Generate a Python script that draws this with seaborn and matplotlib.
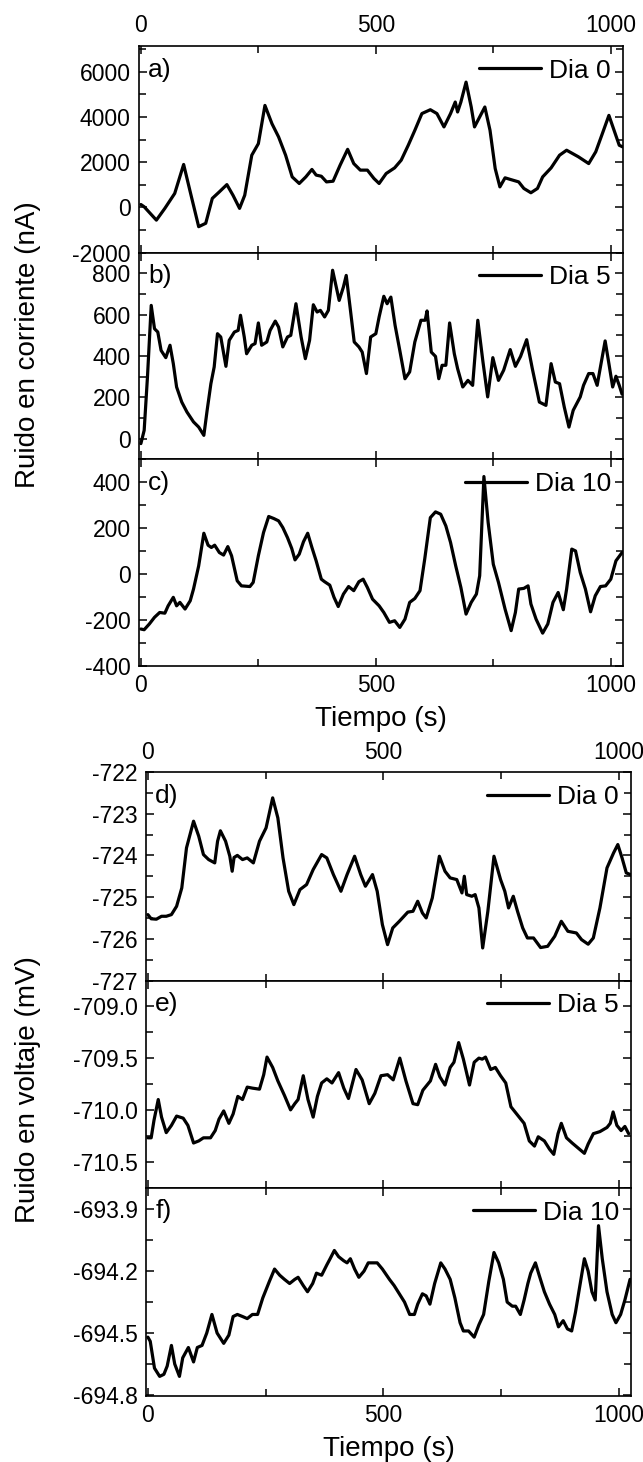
import matplotlib
matplotlib.use("Agg")
import matplotlib.pyplot as plt
import seaborn as sns
import pandas as pd
from matplotlib.ticker import MultipleLocator, FormatStrFormatter

# ---------------- data ----------------
# a) corriente, Dia 0 (nA)
t_a = [0, 7, 33, 51, 72, 91, 105, 123, 138, 152, 167, 183, 196, 210, 221, 236, 250, 264, 279, 293,
       308, 322, 337, 351, 364, 373, 384, 395, 409, 424, 440, 453, 467, 482, 496, 507, 522, 540, 554,
       569, 583, 598, 616, 630, 645, 659, 669, 674, 681, 692, 703, 710, 721, 732, 743, 754, 764, 775,
       786, 804, 815, 830, 844, 855, 873, 891, 906, 931, 953, 968, 982, 996, 1007, 1018, 1025]
i_a = [130, 30, -560, -40, 620, 1900, 690, -850, -700, 400, 690, 1010, 540, -40, 540, 2310, 2820,
       4510, 3700, 3120, 2310, 1350, 1060, 1350, 1680, 1430, 1380, 1130, 1160, 1870, 2570, 1940, 1650,
       1650, 1280, 1060, 1500, 1750, 2090, 2750, 3410, 4150, 4320, 4150, 3560, 4150, 4660, 4220, 4660,
       5540, 4440, 3560, 4000, 4440, 3410, 1720, 910, 1310, 1240, 1130, 840, 650, 840, 1350, 1750,
       2310, 2530, 2240, 1940, 2460, 3260, 4070, 3410, 2750, 2680]

# b) corriente, Dia 5 (nA)
t_b = [0, 7, 14, 22, 29, 36, 43, 53, 62, 69, 76, 87, 98, 112, 123, 134, 141, 149, 156, 163, 170,
       181, 188, 199, 207, 212, 220, 225, 236, 243, 250, 257, 268, 275, 286, 293, 302, 312, 319, 330,
       341, 350, 359, 367, 375, 382, 391, 399, 408, 422, 431, 437, 446, 454, 464, 471, 480, 489, 500,
       507, 517, 524, 532, 541, 551, 562, 572, 583, 596, 605, 609, 618, 627, 634, 641, 649, 657, 667,
       674, 685, 696, 706, 717, 728, 738, 749, 761, 772, 786, 797, 808, 821, 833, 848, 862, 873, 882,
       891, 901, 911, 920, 935, 942, 953, 962, 971, 978, 988, 996, 1004, 1011, 1018, 1024]
i_b = [-24, 40, 298, 645, 532, 516, 427, 392, 452, 363, 250, 177, 129, 81, 56, 16, 137, 266, 347,
       508, 492, 350, 476, 516, 524, 597, 492, 411, 452, 460, 560, 452, 468, 524, 569, 540, 444, 492,
       500, 653, 492, 387, 476, 648, 613, 621, 589, 621, 815, 669, 734, 790, 621, 468, 444, 419, 315,
       492, 508, 589, 689, 653, 685, 548, 427, 290, 323, 468, 573, 573, 618, 419, 398, 290, 355, 355,
       560, 411, 339, 250, 282, 258, 573, 371, 202, 392, 282, 331, 431, 350, 398, 479, 339, 177, 161,
       363, 274, 266, 153, 56, 137, 202, 258, 315, 315, 258, 347, 473, 363, 250, 302, 258, 215]

# c) corriente, Dia 10 (nA)
t_c = [0, 7, 18, 29, 40, 51, 58, 69, 76, 83, 94, 105, 112, 123, 134, 143, 150, 157, 167, 176, 185,
       193, 205, 214, 232, 239, 250, 261, 272, 283, 293, 302, 312, 321, 328, 337, 346, 355, 364, 373,
       384, 391, 402, 411, 420, 431, 442, 453, 464, 473, 482, 493, 507, 517, 529, 540, 551, 562, 572,
       583, 594, 604, 616, 627, 638, 649, 659, 670, 681, 692, 703, 714, 721, 730, 739, 750, 761, 775,
       788, 797, 804, 815, 824, 830, 841, 855, 866, 877, 888, 899, 906, 917, 925, 935, 946, 957, 967,
       978, 989, 1000, 1011, 1024]
i_c = [-239, -242, -217, -188, -167, -170, -138, -101, -138, -123, -152, -116, -65, 36, 178, 126,
       116, 126, 94, 83, 120, 80, -29, -51, -54, -36, 80, 181, 251, 242, 232, 203, 159, 112, 62, 87,
       141, 178, 116, 58, -22, -33, -48, -101, -141, -87, -54, -72, -33, -22, -58, -109, -138, -167,
       -210, -203, -232, -196, -123, -106, -72, 65, 246, 271, 261, 210, 138, 36, -58, -174, -123, -87,
       -7, 425, 225, 43, -36, -152, -246, -167, -65, -62, -51, -130, -196, -257, -217, -123, -80,
       -155, -65, 109, 101, 7, -65, -164, -94, -54, -51, -22, 58, 94]

# d) voltaje, Dia 0 (mV)
t_d = [0, 7, 18, 29, 39, 50, 61, 72, 82, 97, 108, 118, 129, 142, 148, 154, 165, 174, 179, 183, 190,
       201, 211, 224, 237, 251, 265, 276, 287, 299, 310, 323, 337, 351, 369, 380, 394, 410, 423, 439,
       452, 462, 477, 487, 498, 509, 520, 534, 552, 563, 573, 583, 591, 604, 619, 631, 642, 656, 667,
       672, 677, 688, 695, 703, 711, 722, 735, 749, 758, 766, 776, 785, 796, 806, 819, 834, 849, 864,
       878, 892, 910, 921, 935, 946, 960, 975, 989, 998, 1007, 1016, 1025]
v_d = [-725.42, -725.52, -725.53, -725.46, -725.46, -725.42, -725.22, -724.78, -723.82, -723.18,
       -723.54, -723.98, -724.10, -724.18, -723.66, -723.41, -723.66, -724.02, -724.38, -724.05,
       -724.00, -724.10, -724.06, -724.18, -723.66, -723.34, -722.62, -723.10, -724.06, -724.86,
       -725.18, -724.82, -724.70, -724.34, -723.98, -724.06, -724.46, -724.86, -724.46, -724.02,
       -724.46, -724.74, -724.46, -724.86, -725.66, -726.14, -725.74, -725.58, -725.36, -725.34,
       -725.10, -725.38, -725.50, -725.02, -724.02, -724.38, -724.54, -724.58, -724.90, -724.50,
       -724.94, -724.98, -724.94, -725.26, -726.22, -725.34, -724.02, -724.58, -724.86, -725.26,
       -724.98, -725.34, -725.74, -725.98, -725.98, -726.21, -726.18, -725.94, -725.58, -725.82,
       -725.86, -726.02, -726.13, -725.98, -725.26, -724.30, -723.94, -723.74, -724.06, -724.42,
       -724.46]

# e) voltaje, Dia 5 (mV)
t_e = [0, 7, 13, 22, 29, 39, 50, 61, 75, 85, 97, 108, 118, 133, 143, 151, 161, 172, 181, 191, 201,
       211, 222, 237, 246, 253, 265, 276, 290, 303, 312, 319, 330, 340, 351, 360, 369, 380, 391, 405,
       416, 426, 442, 455, 470, 482, 495, 509, 521, 535, 548, 563, 573, 584, 600, 611, 620, 631, 642,
       650, 660, 670, 683, 693, 703, 710, 717, 728, 738, 749, 760, 771, 785, 799, 810, 821, 829, 842,
       853, 862, 871, 878, 889, 901, 914, 927, 935, 946, 960, 975, 982, 988, 996, 1005, 1013, 1021]
v_e = [-710.27, -710.27, -710.10, -709.90, -710.07, -710.22, -710.15, -710.06, -710.08, -710.15,
       -710.32, -710.30, -710.27, -710.27, -710.20, -710.09, -710.01, -710.13, -710.04, -709.87,
       -709.90, -709.78, -709.79, -709.80, -709.66, -709.49, -709.59, -709.72, -709.86, -710.00,
       -709.94, -709.90, -709.67, -709.90, -710.07, -709.87, -709.74, -709.70, -709.74, -709.64,
       -709.79, -709.89, -709.61, -709.71, -709.94, -709.84, -709.67, -709.66, -709.71, -709.50,
       -709.72, -709.94, -709.95, -709.81, -709.72, -709.56, -709.68, -709.76, -709.59, -709.54,
       -709.35, -709.51, -709.76, -709.54, -709.50, -709.51, -709.49, -709.61, -709.59, -709.67,
       -709.74, -709.97, -710.05, -710.13, -710.30, -710.35, -710.26, -710.30, -710.38, -710.43,
       -710.23, -710.13, -710.27, -710.32, -710.37, -710.42, -710.33, -710.23, -710.21, -710.17,
       -710.13, -710.02, -710.15, -710.20, -710.16, -710.23]

# f) voltaje, Dia 10 (mV)
t_f = [0, 5, 14, 25, 34, 41, 50, 57, 67, 74, 86, 97, 105, 115, 125, 136, 147, 161, 172, 181, 190,
       201, 211, 222, 233, 244, 258, 269, 280, 290, 301, 312, 319, 330, 339, 350, 358, 369, 380, 387,
       396, 405, 416, 423, 430, 439, 448, 459, 468, 477, 487, 498, 513, 523, 534, 545, 556, 566, 573,
       583, 591, 599, 609, 622, 631, 642, 652, 663, 670, 681, 693, 703, 713, 724, 735, 745, 755, 763,
       774, 781, 791, 799, 807, 813, 823, 831, 842, 853, 864, 872, 882, 891, 900, 908, 916, 927, 935,
       943, 950, 957, 965, 975, 986, 994, 1004, 1013, 1024]
v_f = [-694.52, -694.54, -694.67, -694.71, -694.70, -694.66, -694.56, -694.65, -694.71, -694.62,
       -694.57, -694.64, -694.57, -694.56, -694.50, -694.41, -694.50, -694.55, -694.51, -694.42,
       -694.41, -694.42, -694.43, -694.41, -694.41, -694.33, -694.25, -694.19, -694.22, -694.24,
       -694.26, -694.24, -694.23, -694.27, -694.30, -694.26, -694.21, -694.22, -694.17, -694.14,
       -694.10, -694.13, -694.15, -694.16, -694.14, -694.19, -694.23, -694.20, -694.16, -694.16,
       -694.16, -694.19, -694.24, -694.27, -694.31, -694.35, -694.41, -694.41, -694.36, -694.31,
       -694.32, -694.36, -694.26, -694.16, -694.19, -694.24, -694.33, -694.45, -694.49, -694.49,
       -694.52, -694.46, -694.41, -694.25, -694.11, -694.16, -694.24, -694.35, -694.37, -694.37,
       -694.41, -694.34, -694.26, -694.21, -694.16, -694.22, -694.30, -694.36, -694.41, -694.47,
       -694.44, -694.48, -694.49, -694.40, -694.29, -694.14, -694.20, -694.30, -694.34, -693.98,
       -694.14, -694.30, -694.41, -694.45, -694.41, -694.34, -694.24]

panel_letters = ["a)", "b)", "c)", "d)", "e)", "f)"]
legend_labels = ["Dia 0", "Dia 5", "Dia 10", "Dia 0", "Dia 5", "Dia 10"]
ylabel_top = "Ruido en corriente (nA)"
ylabel_bottom = "Ruido en voltaje (mV)"
xlabel = "Tiempo (s)"

# ---------------- style ----------------
sns.set_theme(style="ticks")
plt.rcParams["font.family"] = ["Liberation Sans", "DejaVu Sans"]
plt.rcParams["axes.unicode_minus"] = False
for key in ["text.color", "axes.edgecolor", "axes.labelcolor", "xtick.color", "ytick.color"]:
    plt.rcParams[key] = "black"
plt.rcParams["lines.solid_joinstyle"] = "round"
plt.rcParams["lines.solid_capstyle"] = "round"

W, H = 643, 1462
fig = plt.figure(figsize=(W / 100, H / 100), dpi=100)

def rect(left, right, top, bottom):
    return [left / W, 1 - bottom / H, (right - left) / W, (bottom - top) / H]

upper_lr = (139, 623)
lower_lr = (146, 631)
panels = [
    dict(t=t_a, y=i_a, r=rect(*upper_lr, 45.7, 252.7), ylim=(-2000, 7150), major=2000, minor=1000, fmt="%d"),
    dict(t=t_b, y=i_b, r=rect(*upper_lr, 252.7, 459.3), ylim=(-100, 900), major=200, minor=100, fmt="%d"),
    dict(t=t_c, y=i_c, r=rect(*upper_lr, 459.3, 666), ylim=(-400, 500), major=200, minor=100, fmt="%d"),
    dict(t=t_d, y=v_d, r=rect(*lower_lr, 772, 980.5), ylim=(-727, -722), major=1, minor=0.5, fmt="%d"),
    dict(t=t_e, y=v_e, r=rect(*lower_lr, 980.5, 1187.5), ylim=(-710.75, -708.75), major=0.5, minor=0.25, fmt="%.1f"),
    dict(t=t_f, y=v_f, r=rect(*lower_lr, 1187.5, 1396), ylim=(-694.805, -693.795), major=0.3, minor=0.15, fmt="%.1f"),
]

for k, p in enumerate(panels):
    ax = fig.add_axes(p["r"])
    df = pd.DataFrame({"t": p["t"], "v": p["y"]})
    sns.lineplot(data=df, x="t", y="v", ax=ax, color="black", linewidth=2.3,
                 label=legend_labels[k], sort=False, estimator=None)
    ax.set_xlim(-4, 1026)
    ax.set_ylim(*p["ylim"])
    ax.set_xlabel("")
    ax.set_ylabel("")
    ax.xaxis.set_major_locator(MultipleLocator(500))
    ax.xaxis.set_minor_locator(MultipleLocator(250))
    ax.yaxis.set_major_locator(MultipleLocator(p["major"]))
    ax.yaxis.set_minor_locator(MultipleLocator(p["minor"]))
    ax.yaxis.set_major_formatter(FormatStrFormatter(p["fmt"]))
    first = k in (0, 3)
    last = k in (2, 5)
    ax.tick_params(which="both", direction="in", top=True, right=True,
                   labeltop=first, labelbottom=last, labelsize=16.5, pad=6, width=1.1)
    ax.tick_params(which="major", length=6)
    ax.tick_params(which="minor", length=5)
    for s in ax.spines.values():
        s.set_linewidth(1.2)
        s.set_color("black")
    leg = ax.legend(loc="center right", bbox_to_anchor=(0.975, 0.88), frameon=False,
                    fontsize=19, handlelength=2.35, handletextpad=0.3,
                    borderpad=0, borderaxespad=0)
    for ln in leg.get_lines():
        ln.set_linewidth(2.3)
    ax.text(0.019, 0.885, panel_letters[k], transform=ax.transAxes, fontsize=19,
            ha="left", va="center")
    if last:
        ax.set_xlabel(xlabel, fontsize=20, labelpad=6, color="black")

fig.text(28 / W, 1 - 345 / H, ylabel_top, rotation=90, fontsize=20, ha="center", va="center")
fig.text(28 / W, 1 - 1090 / H, ylabel_bottom, rotation=90, fontsize=20, ha="center", va="center")

fig.savefig("out.png", dpi=100)
